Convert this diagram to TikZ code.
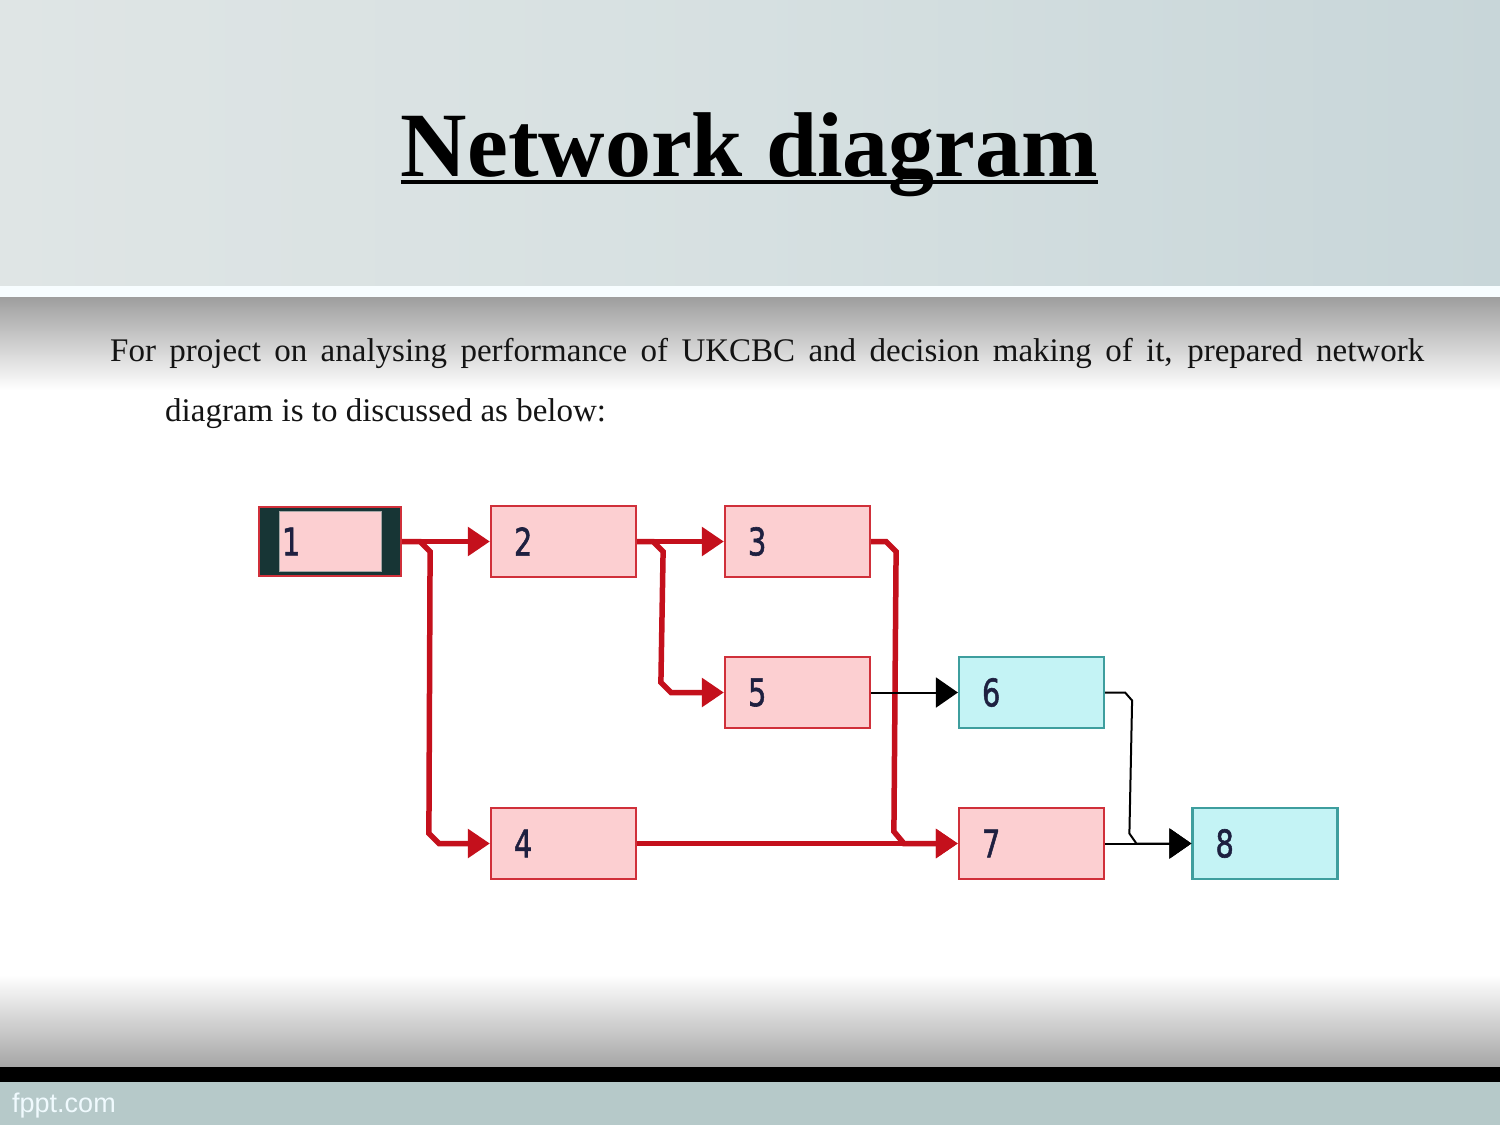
\documentclass[tikz,border=0pt]{standalone}
\usepackage{fontspec}
\usepackage{graphicx}
\setmainfont{Liberation Serif}
\newfontfamily\digitfont[FakeBold=1.6]{DejaVu Sans}
\newfontfamily\fpptfont{Liberation Sans}
\usetikzlibrary{arrows.meta,calc}
\definecolor{redc}{HTML}{C4101C}
\definecolor{redb}{HTML}{D0303A}
\definecolor{pinkf}{HTML}{FCCFD1}
\definecolor{cyanf}{HTML}{C4F3F5}
\definecolor{cyanb}{HTML}{3E9E9E}
\definecolor{darkf}{HTML}{173535}
\definecolor{digitc}{HTML}{1E2040}
\definecolor{hdrL}{HTML}{DFE5E5}
\definecolor{hdrM}{HTML}{D6E0E1}
\definecolor{hdrR}{HTML}{C8D6D9}
\definecolor{bandB}{HTML}{B6C9C9}
\tikzset{
  x=1pt, y=-1pt,
  boxbase/.style={line width=2.2pt, minimum height=71pt, text width=99pt,
    inner xsep=23pt, inner ysep=0pt, align=left,
    font=\digitfont\fontsize{38}{38}\selectfont, text=digitc},
  pinkbox/.style={boxbase, draw=redb, fill=pinkf},
  cyanbox/.style={boxbase, draw=cyanb, fill=cyanf},
  onebox/.style={draw=redb, fill=darkf, line width=2.2pt, minimum width=142pt, minimum height=69pt, inner sep=0pt},
  oneinner/.style={draw=gray!70, fill=pinkf, line width=1pt, minimum width=102pt, minimum height=60pt,
    text width=96pt, inner xsep=3pt, inner ysep=0pt, align=left,
    font=\digitfont\fontsize{38}{38}\selectfont, text=digitc},
  redline/.style={draw=redc, line width=5.5pt, -{Triangle[length=22pt,width=28pt]}},
  blackline/.style={draw=black, line width=2pt, -{Triangle[length=22pt,width=30pt]}},
}
\newcommand{\dg}[1]{\scalebox{0.76}[1]{#1}}
\begin{document}
\begin{tikzpicture}
\useasboundingbox (0,0) rectangle (1500,1125);
% background
\fill[white] (0,0) rectangle (1500,1125);
\shade[left color=hdrL, right color=hdrR, middle color=hdrM] (0,0) rectangle (1500,286);
\fill[white!97!cyan] (0,286) rectangle (1500,297);
\shade[top color=black!38, bottom color=white] (0,297) rectangle (1500,390);
\shade[top color=white, bottom color=black!35] (0,975) rectangle (1500,1067);
\fill[black] (0,1067) rectangle (1500,1082);
\fill[bandB] (0,1082) rectangle (1500,1125);
\node[anchor=base west, inner sep=0pt, text=white!94!cyan, font=\fpptfont\fontsize{27}{27}\selectfont] (fppt) at (12,1112) {fppt.com};

% title
\node[anchor=base, inner sep=0pt, font=\bfseries\fontsize{92}{92}\selectfont] (title) at (749.5,176) {Network diagram};
\draw[line width=4pt] ([yshift=-6pt]title.base west) -- ([yshift=-6pt]title.base east);

% body text
\node[anchor=base west, inner sep=0pt, font=\fontsize{33}{33}\selectfont, text=black!92] (l1) at (110,361)
  {\makebox[1314pt][s]{For project on analysing performance of UKCBC and decision making of it, prepared network}};
\node[anchor=base west, inner sep=0pt, font=\fontsize{33}{33}\selectfont, text=black!92] (l2) at (165,421)
  {diagram is to discussed as below:};

% nodes
\node[onebox] (n1) at (330,541.5) {};
\node[oneinner] (n1in) at (n1.center) {\dg{1}};
\node[pinkbox] (n2) at (563.5,541.5) {\dg{2}};
\node[pinkbox] (n3) at (797.5,541.5) {\dg{3}};
\node[pinkbox] (n5) at (797.5,692.5) {\dg{5}};
\node[cyanbox] (n6) at (1031.5,692.5) {\dg{6}};
\node[pinkbox] (n4) at (563.5,843.5) {\dg{4}};
\node[pinkbox] (n7) at (1031.5,843.5) {\dg{7}};
\node[cyanbox] (n8) at (1265,843.5) {\dg{8}};

% red connectors
\draw[redline] (n1.east) -- (n2.west);
\draw[redline] (n1.east) -- ++(18,0) -- ++(10,10) -- ($(n4.west)+(-61,-10)$) -- ($(n4.west)+(-51,0)$) -- (n4.west);
\draw[redline] (n2.east) -- (n3.west);
\draw[redline] (n2.east) -- ++(16,0) -- ++(10,10) -- ($(n5.west)+(-63,-10)$) -- ($(n5.west)+(-53,0)$) -- (n5.west);
\draw[redline] (n4.east) -- (n7.west);
\draw[redline] (n3.east) -- ++(15,0) -- ++(10,10) -- ($(n7.west)+(-64,-12)$) -- ($(n7.west)+(-54,0)$) -- (n7.west);
% black connectors
\draw[blackline] (n5.east) -- (n6.west);
\draw[blackline] (n7.east) -- (n8.west);
\draw[blackline] (n6.east) -- ++(20,0) -- ++(7,8) -- ($(n8.west)+(-62,-10)$) -- ($(n8.west)+(-55,0)$) -- (n8.west);
\end{tikzpicture}
\end{document}
